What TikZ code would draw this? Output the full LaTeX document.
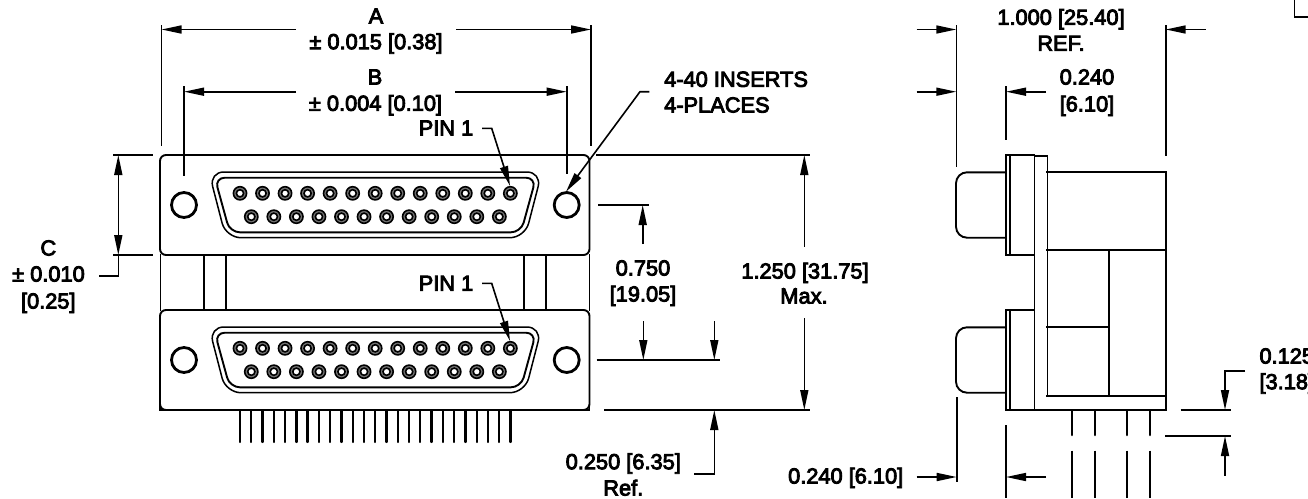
\documentclass[tikz,border=0pt]{standalone}
\usepackage{fontspec}
\setmainfont{Liberation Sans}[RawFeature={embolden=4}]
\usetikzlibrary{arrows.meta}
\tikzset{
  lab/.style={inner sep=0pt,text height=15pt,text depth=0pt,font=\fontsize{21.8}{24}\selectfont,black},
  labl/.style={lab,anchor=west},
  dim/.style={line width=1.6pt,black},
  arr/.style={dim,-{Triangle[length=20pt,width=8pt]}},
  outline/.style={line width=1.9pt,black,line cap=rect},
  hole/.style={line width=2.8pt,black},
  pinleg/.style={line width=2.3pt,black,line cap=round},
  pinouter/.style={line width=1.6pt,draw=black,fill=black!55},
  pininner/.style={line width=1.6pt,draw=black,fill=white}
}
\begin{document}
\begin{tikzpicture}[x=1pt,y=-1pt]
\useasboundingbox (0,0) rectangle (1308,498);
% ---------- FRONT VIEW ----------
\foreach \yo in {0,155}{
  \draw[outline,rounded corners=6pt] (160,155+\yo) rectangle (589.5,255+\yo);
  % D shell
  \draw[outline,line width=1.5pt,rounded corners=15pt] (208.9,172+\yo) -- (541.9,172+\yo) -- (524.9,237.7+\yo) -- (225.9,237.7+\yo) -- cycle;
  \draw[outline,rounded corners=10pt] (214.8,177.7+\yo) -- (536,177.7+\yo) -- (521,232.3+\yo) -- (229.8,232.3+\yo) -- cycle;
  % holes
  \draw[hole] (184,205+\yo) circle (12.5);
  \draw[hole] (566.7,205+\yo) circle (12.5);
  % contacts
  \foreach \i in {0,...,12}{
    \pgfmathsetmacro{\px}{240+22.53*\i}
    \filldraw[pinouter] (\px,193.3+\yo) circle (6.6);
    \filldraw[pininner] (\px,193.3+\yo) circle (3.6);
  }
  \foreach \i in {0,...,11}{
    \pgfmathsetmacro{\px}{251.3+22.55*\i}
    \filldraw[pinouter] (\px,216.7+\yo) circle (6.6);
    \filldraw[pininner] (\px,216.7+\yo) circle (3.6);
  }
}
\draw[outline] (160.5,255) -- (160.5,310);
\draw[outline] (589.5,255) -- (589.5,310);
\draw[outline] (160,400) -- (160,410) -- (589.5,410) -- (589.5,400);
\foreach \x in {204,225.7,524.3,546}{
  \draw[outline] (\x,255) -- (\x,310);
}
\foreach \i in {0,...,24}{
  \pgfmathsetmacro{\px}{240+11.27*\i}
  \draw[pinleg] (\px,411) -- (\px,442);
}
% dimension A
\draw[dim] (161.5,25) -- (161.5,146);
\draw[dim] (591,25) -- (591,146);
\draw[arr] (296,29.5) -- (161.5,29.5);
\draw[arr] (456,29.5) -- (591,29.5);
\node[lab] (tA) at (376,16) {A};
\node[lab] (tAtol) at (376,41.7) {± 0.015 [0.38]};
% dimension B
\draw[dim] (184,86) -- (184,176);
\draw[dim] (566.7,86) -- (566.7,174);
\draw[arr] (296,91.7) -- (184,91.7);
\draw[arr] (455,91.7) -- (566.7,91.7);
\node[lab] (tB) at (375,77) {B};
\node[lab] (tBtol) at (375.5,103.3) {± 0.004 [0.10]};
% PIN 1
\node[lab] (tP1) at (446,128) {PIN 1};
\draw[arr] (482,128.3) -- (491.7,128.3) -- (510,186);
\node[lab] (tP2) at (446,283.3) {PIN 1};
\draw[arr] (482,283.3) -- (491.7,283.3) -- (510,341);
% inserts
\node[labl] (tI1) at (664,79.3) {4-40 INSERTS};
\node[labl] (tI2) at (664,105) {4-PLACES};
\draw[arr] (649.3,91.7) -- (640,91.7) -- (566,191.7);
% dimension C
\draw[dim] (113.3,155) -- (153.3,155);
\draw[dim] (113.3,255) -- (153.3,255);
\draw[arr] (118.3,205) -- (118.3,155);
\draw[arr] (118.3,205) -- (118.3,255);
\draw[dim] (118.3,255) -- (118.3,276) -- (99,276);
\node[lab] (tC) at (48.3,248) {C};
\node[lab] (tCtol) at (48.5,274) {± 0.010};
\node[lab] (tCmm) at (48.3,301) {[0.25]};
% right-hand dimensions
\draw[dim] (596,155) -- (810,155);
\draw[dim] (598,205) -- (649,205);
\draw[dim] (596.7,360) -- (720,360);
\draw[dim] (604.3,410) -- (810,410);
\draw[arr] (804.3,246.7) -- (804.3,155);
\draw[arr] (804.3,318.3) -- (804.3,410);
\draw[arr] (642.7,244) -- (642.7,205);
\draw[arr] (643.3,321) -- (643.3,360);
\draw[arr] (714.3,321) -- (714.3,360);
\draw[arr] (694,474) -- (714.3,474) -- (714.3,410);
\node[lab] (t750) at (643,268) {0.750};
\node[lab] (t750mm) at (643,294) {[19.05]};
\node[lab] (t1250) at (805,271) {1.250 [31.75]};
\node[lab] (tMax) at (804,296) {Max.};
\node[lab] (t250) at (623.3,461.7) {0.250 [6.35]};
\node[lab] (tRef) at (623.3,488) {Ref.};
% ---------- SIDE VIEW ----------
\draw[outline,rounded corners=11pt] (1006,172.3) -- (956,172.3) -- (956,237.7) -- (1006,237.7);
\draw[outline,rounded corners=11pt] (1006,327.3) -- (956,327.3) -- (956,392.7) -- (1006,392.7);
\draw[outline] (1006,155) rectangle (1034.5,255);
\draw[outline] (1010,155) -- (1010,255);
\draw[outline] (1006,310) -- (1034.5,310);
\draw[outline] (1006,310) -- (1006,410);
\draw[outline] (1010,310) -- (1010,410);
\draw[outline] (1034.5,155) -- (1034.5,410);
\draw[outline,line width=1.4pt] (1034.5,156) -- (1047.3,156) -- (1047.3,396);
\draw[outline] (1047.3,171.7) -- (1165.7,171.7) -- (1165.7,410) -- (1006,410);
\draw[outline] (1047.3,250) -- (1165.7,250);
\draw[outline] (1109.3,250) -- (1109.3,396);
\draw[outline] (1047.3,326.7) -- (1109.3,326.7);
\draw[outline] (1047.3,396) -- (1165.7,396);
\foreach \x in {1072,1095,1127,1150}{
  \draw[line width=2.6pt,black,line cap=round] (\x,411) -- (\x,435);
  \draw[dim] (\x,450.7) -- (\x,498);
}
\draw[dim] (956.3,25) -- (956.3,167);
\draw[dim] (1165.7,25) -- (1165.7,156);
\draw[dim] (1006,86) -- (1006,140);
\draw[arr] (916.7,29.5) -- (956.3,29.5);
\draw[arr] (1205.7,29.5) -- (1165.7,29.5);
\draw[arr] (916.7,91.7) -- (956.3,91.7);
\draw[arr] (1046,91.7) -- (1006,91.7);
\node[lab] (t1000) at (1061,17.3) {1.000 [25.40]};
\node[lab] (tREF) at (1061,43.3) {REF.};
\node[lab] (t240a) at (1087,77) {0.240};
\node[lab] (t240b) at (1087,104) {[6.10]};
% bottom dims
\draw[dim] (956.7,397.3) -- (956.7,481.7);
\draw[dim,line width=1.9pt] (1006,425) -- (1006,498);
\draw[arr] (916.7,477) -- (956.7,477);
\draw[arr] (1046,477) -- (1006,477);
\node[lab] (t240c) at (845.7,476) {0.240 [6.10]};
% 0.125 dim
\draw[dim] (1180.7,410) -- (1230.7,410);
\draw[dim] (1165,436) -- (1230.7,436);
\draw[arr] (1245,371) -- (1225,371) -- (1225,410);
\draw[arr] (1225,475.7) -- (1225,436);
\node[labl] (t125) at (1259.3,356) {0.125};
\node[labl] (t318) at (1259.3,381.7) {[3.18]};
% corner mark
\draw[dim] (1294.3,0) -- (1294.3,16.7) -- (1308,16.7);
\end{tikzpicture}
\end{document}
